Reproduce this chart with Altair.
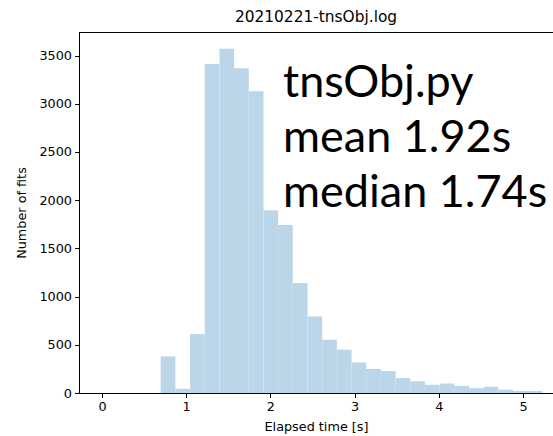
import altair as alt
import pandas as pd

# histogram bin edges (s) and counts
bin_start = [0.000, 0.174, 0.349, 0.523, 0.697, 0.872, 1.046, 1.220, 1.395, 1.569,
             1.743, 1.918, 2.092, 2.266, 2.441, 2.615, 2.789, 2.964, 3.138, 3.312,
             3.487, 3.661, 3.835, 4.010, 4.184, 4.358, 4.533, 4.707, 4.881, 5.056]
bin_end = [0.174, 0.349, 0.523, 0.697, 0.872, 1.046, 1.220, 1.395, 1.569, 1.743,
           1.918, 2.092, 2.266, 2.441, 2.615, 2.789, 2.964, 3.138, 3.312, 3.487,
           3.661, 3.835, 4.010, 4.184, 4.358, 4.533, 4.707, 4.881, 5.056, 5.230]
counts = [0, 0, 0, 0, 379, 44, 611, 3412, 3571, 3368,
          3129, 1895, 1742, 1140, 794, 552, 449, 317, 249, 228,
          155, 122, 85, 98, 74, 50, 64, 34, 21, 21]

x_ticks = [0, 1, 2, 3, 4, 5]
y_ticks = [0, 500, 1000, 1500, 2000, 2500, 3000, 3500]

title = "20210221-tnsObj.log"
x_label = "Elapsed time [s]"
y_label = "Number of fits"
notes = ["tnsObj.py", "mean 1.92s", "median 1.74s"]

W, H = 474, 361

df = pd.DataFrame({"start": bin_start, "end": bin_end, "count": counts})

tick_font = "DejaVu Sans"

bars = alt.Chart(df).mark_bar(color="#bbd6e8", stroke=None).encode(
    x=alt.X("start:Q",
            scale=alt.Scale(domain=[-0.273, 5.356], nice=False, zero=False),
            axis=alt.Axis(values=x_ticks, title=x_label, format="d",
                          grid=False, domainColor="black", domainWidth=1,
                          tickColor="black", tickWidth=1, tickSize=4.5,
                          labelPadding=3, labelFont=tick_font, labelFontSize=12.8,
                          labelColor="black", titleFont=tick_font, titleFontSize=12.8,
                          titleFontWeight="normal", titleColor="black", titlePadding=7)),
    x2="end:Q",
    y=alt.Y("count:Q",
            scale=alt.Scale(domain=[0, 3744], nice=False),
            axis=alt.Axis(values=y_ticks, title=y_label, format="d",
                          grid=False, domainColor="black", domainWidth=1,
                          tickColor="black", tickWidth=1, tickSize=4.5,
                          labelPadding=3, labelFont=tick_font, labelFontSize=12.8,
                          labelColor="black", titleFont=tick_font, titleFontSize=12.8,
                          titleFontWeight="normal", titleColor="black", titlePadding=10)),
    y2=alt.datum(0),
)

top_spine = alt.Chart(df).mark_rule(color="black", strokeWidth=1).encode(
    x=alt.value(0), x2=alt.value(W), y=alt.value(0.5)
).transform_filter("datum.start == 0")

notes_df = pd.DataFrame({"text": notes, "line": [0, 1, 2]})
note_text = alt.Chart(notes_df).mark_text(
    align="left", baseline="alphabetic", font="Lato", fontSize=45, color="black"
).encode(
    text="text:N",
    x=alt.value(204),
    y=alt.Y("line:Q", scale=alt.Scale(domain=[0, 2], range=[65, 175]), axis=None),
)

chart = alt.layer(bars, top_spine, note_text).resolve_scale(y="independent").properties(
    width=W, height=H,
    title=alt.TitleParams(title, font=tick_font, fontSize=15.4, fontWeight="normal",
                          color="black", offset=7, anchor="middle"),
    autosize=alt.AutoSizeParams(type="none"),
    padding={"left": 79, "top": 32, "right": 0, "bottom": 43},
).configure_view(stroke=None).configure(background="white")

chart.save("out.html", embed_options={"renderer": "svg", "actions": False})
